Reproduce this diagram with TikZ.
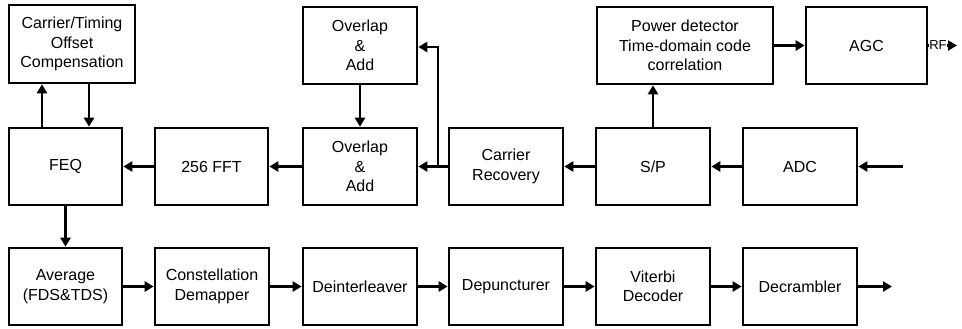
\documentclass[tikz,border=0pt]{standalone}
\usepackage{fontspec}
\setmainfont{Liberation Sans}
\usetikzlibrary{arrows.meta}
\begin{document}
\begin{tikzpicture}[x=1pt,y=-1pt,
  blk/.style={draw=black,line width=2.6pt,minimum width=114pt,minimum height=77pt,
    align=center,inner sep=2pt,font=\fontsize{16}{19.5}\selectfont},
  arr/.style={line width=2.4pt,-{Triangle[length=9pt,width=10pt]}}]
\useasboundingbox (0,0) rectangle (962,329);

% top row
\node[blk,minimum width=126pt,minimum height=78pt] (ct) at (72,44) {Carrier/Timing\\Offset\\Compensation};
\node[blk] (ola1) at (360,45.5) {Overlap\\\&\\Add};
\node[blk,minimum width=176pt] (pd) at (685,45.5) {Power detector\\Time-domain code\\correlation};
\node[blk,minimum width=121pt] (agc) at (866.5,45.5) {AGC};

% middle row
\node[blk,minimum width=113pt] (feq) at (65.5,166.5) {FEQ};
\node[blk,minimum width=113pt] (fft) at (211.5,166.5) {256 FFT};
\node[blk] (ola2) at (360,166.5) {Overlap\\\&\\Add};
\node[blk] (cr) at (506,166.5) {Carrier\\Recovery};
\node[blk] (sp) at (653,166.5) {S/P};
\node[blk] (adc) at (800,166.5) {ADC};

% bottom row
\node[blk,minimum width=113pt] (avg) at (65.5,286.5) {Average\\(FDS\&TDS)};
\node[blk] (cd) at (212,286.5) {Constellation\\Demapper};
\node[blk] (di) at (360,286.5) {Deinterleaver};
\node[blk] (dp) at (506,286.5) {Depuncturer};
\node[blk] (vd) at (653,286.5) {Viterbi\\Decoder};
\node[blk] (dec) at (800,286.5) {Decrambler};

% helper coordinates
\coordinate (xup) at (42,0);
\coordinate (xdn) at (89,0);
\coordinate (jn) at (438,166.5);
\coordinate (fb) at (438,47);
\coordinate (adcin) at (903,166.5);
\coordinate (rfend) at (957,45.5);
\coordinate (out) at (892,286.5);

% feedback between FEQ and offset compensation
\draw[arr] (feq.north -| xup) -- (ct.south -| xup);
\draw[arr] (ct.south -| xdn) -- (feq.north -| xdn);

% receive chain
\draw[arr] (adcin) -- (adc.east);
\draw[arr] (adc.west) -- (sp.east);
\draw[arr] (sp.west) -- (cr.east);
\draw[arr] (cr.west) -- (ola2.east);
\draw[arr] (jn) -- (fb) -- (fb -| ola1.east);
\draw[arr] (ola1.south) -- (ola2.north);
\draw[arr] (ola2.west) -- (fft.east);
\draw[arr] (fft.west) -- (feq.east);
\draw[arr] (sp.north) -- (sp.north |- pd.south);
\draw[arr] (pd.east) -- (agc.west);
\draw[arr] (agc.east) -- (rfend);
\node[fill=white,inner sep=0.2pt,font=\fontsize{13}{13}\selectfont] (rf) at (938,45.5) {RF};

% decoding chain
\draw[arr] (feq.south) -- (avg.north);
\draw[arr] (avg.east) -- (cd.west);
\draw[arr] (cd.east) -- (di.west);
\draw[arr] (di.east) -- (dp.west);
\draw[arr] (dp.east) -- (vd.west);
\draw[arr] (vd.east) -- (dec.west);
\draw[arr] (dec.east) -- (out);
\end{tikzpicture}
\end{document}
